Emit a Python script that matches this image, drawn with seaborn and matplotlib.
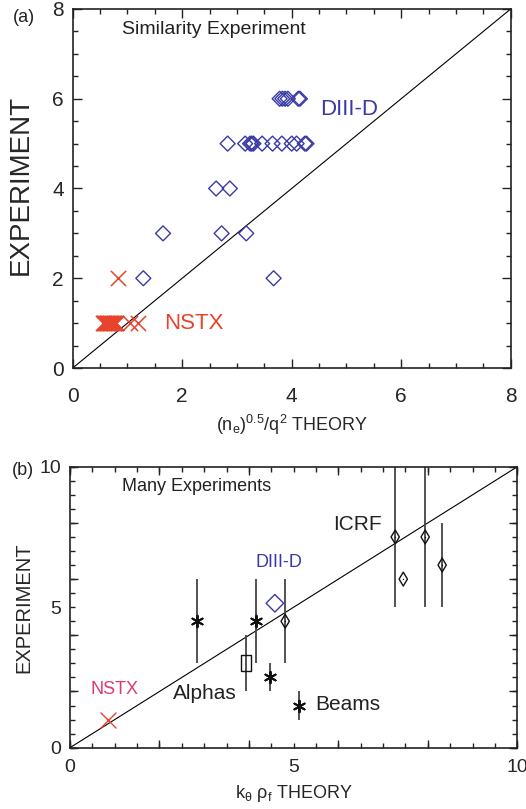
import numpy as np
import pandas as pd
import matplotlib
matplotlib.use("Agg")
import matplotlib.pyplot as plt
from matplotlib.ticker import FuncFormatter
import seaborn as sns

# ---------------- data: panel (a) ----------------
diiid_a_x = [3.78, 3.83, 3.88, 3.93, 4.12, 4.15,
             2.83, 3.15, 3.24, 3.27, 3.30, 3.46, 3.65, 3.82, 4.00, 4.09, 4.24, 4.27,
             2.62, 2.87,
             1.65, 2.72, 3.17,
             1.29, 3.67]
diiid_a_y = [6, 6, 6, 6, 6, 6,
             5, 5, 5, 5, 5, 5, 5, 5, 5, 5, 5, 5,
             4, 4,
             3, 3, 3,
             2, 2]
nstx_a_x = [0.83, 0.55, 0.565, 0.58, 0.595, 0.61, 0.62, 0.635, 0.65, 0.665, 0.68,
            0.69, 0.705, 0.72, 0.735, 0.75, 0.76, 0.775, 0.79, 0.80, 1.05, 1.19]
nstx_a_y = [2, 1, 1, 1, 1, 1, 1, 1, 1, 1, 1,
            1, 1, 1, 1, 1, 1, 1, 1, 1, 1, 1]

# ---------------- data: panel (b) ----------------
beams_x = [2.85, 4.16, 4.46, 5.11]
beams_y = [4.5, 4.5, 2.5, 1.5]
beams_lo = [1.5, 1.5, 0.5, 0.5]
beams_hi = [1.5, 1.5, 0.5, 0.5]

alphas_x = [3.93]
alphas_y = [3.0]
alphas_lo = [1.0]
alphas_hi = [1.0]

icrf_x = [4.81, 7.27, 7.94, 8.32, 7.45]
icrf_y = [4.5, 7.5, 7.5, 6.5, 6.0]
icrf_lo = [1.5, 2.5, 2.5, 1.5, 0.0]
icrf_hi = [1.5, 3.0, 3.0, 1.5, 0.0]

diiid_b_x = [4.58]
diiid_b_y = [5.14]
nstx_b_x = [0.84]
nstx_b_y = [1.0]

a_ticks = [0, 2, 4, 6, 8]
a_tick_labels = ['0', '2', '4', '6', '8']
b_major_ticks = [0, 2, 4, 6, 8, 10]
b_label_values = [0, 5, 10]
b_tick_labels = ['0', '5', '10']

# ---------------- style ----------------
sns.set_style("ticks")
plt.rcParams['font.family'] = ['Liberation Sans', 'DejaVu Sans']
plt.rcParams['mathtext.fontset'] = 'custom'
plt.rcParams['mathtext.rm'] = 'Liberation Sans'
plt.rcParams['mathtext.it'] = 'Liberation Sans:italic'
plt.rcParams['mathtext.bf'] = 'Liberation Sans:bold'

BLUE = '#3a3aa6'
RED = '#e8432c'
PINK = '#e0386c'
ERR = '#444444'

fig = plt.figure(figsize=(5.26, 8.09), dpi=100)
ax1 = fig.add_axes([0.1382, 0.5451, 0.8327, 0.4438])
ax2 = fig.add_axes([0.1331, 0.0758, 0.8504, 0.3473])

for ax in (ax1, ax2):
    for s in ax.spines.values():
        s.set_linewidth(1.2)
        s.set_color('#222222')
    ax.tick_params(which='both', direction='in', top=True, right=True,
                   color='#222222', width=1.0)
    ax.axline((0, 0), slope=1, color='black', lw=0.8, zorder=1)

# ---------------- panel (a) ----------------
df_ad = pd.DataFrame({'x': diiid_a_x, 'y': diiid_a_y})
df_an = pd.DataFrame({'x': nstx_a_x, 'y': nstx_a_y})
sns.scatterplot(data=df_ad, x='x', y='y', ax=ax1, marker='D', s=58,
                facecolor='none', edgecolor=BLUE, linewidth=1.0, zorder=3)
sns.scatterplot(data=df_an, x='x', y='y', ax=ax1, marker='x', s=120,
                color=RED, linewidth=1.1, zorder=3)

ax1.set_xlim(0, 8)
ax1.set_ylim(0, 8)
ax1.set_xticks(a_ticks)
ax1.set_xticklabels(a_tick_labels)
ax1.set_yticks(a_ticks)
ax1.set_yticklabels(a_tick_labels)
ax1.set_xticks(np.arange(0, 8.01, 0.5), minor=True)
ax1.set_yticks(np.arange(0, 8.01, 0.5), minor=True)
ax1.tick_params(which='major', length=6.5, labelsize=15)
ax1.tick_params(which='minor', length=3.6)
ax1.tick_params(axis='x', which='major', pad=14)
ax1.tick_params(axis='y', which='major', pad=6.5)

ax1.set_xlabel(r'(n$_\mathregular{e}$)$^\mathregular{0.5}$/q$^\mathregular{2}$ THEORY',
               fontsize=13, va='top')
ax1.xaxis.set_label_coords(0.5, -0.125)
ax1.set_ylabel('EXPERIMENT', fontsize=20)
ax1.yaxis.set_label_coords(-0.088, 0.51)

ax1.text(0.90, 7.55, 'Similarity Experiment', fontsize=14, va='center', ha='left', color='#222222')
ax1.text(4.52, 5.75, 'DIII-D', fontsize=16, va='center', ha='left', color=BLUE)
ax1.text(1.67, 1.0, 'NSTX', fontsize=16, va='center', ha='left', color=RED)

# ---------------- panel (b) ----------------
ax2.errorbar(beams_x, beams_y, yerr=[beams_lo, beams_hi], fmt='none',
             ecolor=ERR, elinewidth=1.3, capsize=0, zorder=2)
ax2.errorbar(alphas_x, alphas_y, yerr=[alphas_lo, alphas_hi], fmt='none',
             ecolor=ERR, elinewidth=1.3, capsize=0, zorder=2)
ax2.errorbar(icrf_x, icrf_y, yerr=[icrf_lo, icrf_hi], fmt='none',
             ecolor=ERR, elinewidth=1.3, capsize=0, zorder=2)

df_beams = pd.DataFrame({'x': beams_x, 'y': beams_y})
df_alphas = pd.DataFrame({'x': alphas_x, 'y': alphas_y})
df_icrf = pd.DataFrame({'x': icrf_x, 'y': icrf_y})
df_bd = pd.DataFrame({'x': diiid_b_x, 'y': diiid_b_y})
df_bn = pd.DataFrame({'x': nstx_b_x, 'y': nstx_b_y})

rect_marker = [(-0.6, -1.0), (0.6, -1.0), (0.6, 1.0), (-0.6, 1.0), (-0.6, -1.0)]

sns.scatterplot(data=df_beams, x='x', y='y', ax=ax2, marker=(6, 2, 0), s=70,
                color='#111111', linewidth=1.4, zorder=3)
sns.scatterplot(data=df_alphas, x='x', y='y', ax=ax2, marker=rect_marker, s=130,
                facecolor='none', edgecolor='#111111', linewidth=1.0, zorder=3)
sns.scatterplot(data=df_icrf, x='x', y='y', ax=ax2, marker='d', s=50,
                facecolor='none', edgecolor='#111111', linewidth=1.0, zorder=3)
sns.scatterplot(data=df_icrf, x='x', y='y', ax=ax2, marker='.', s=4,
                color='#111111', linewidth=0, zorder=3)
sns.scatterplot(data=df_bd, x='x', y='y', ax=ax2, marker='D', s=80,
                facecolor='none', edgecolor=BLUE, linewidth=1.0, zorder=3)
sns.scatterplot(data=df_bn, x='x', y='y', ax=ax2, marker='x', s=130,
                color=RED, linewidth=1.0, zorder=3)

ax2.set_xlim(0, 10)
ax2.set_ylim(0, 10)
for axis in (ax2.xaxis, ax2.yaxis):
    axis.set_ticks(b_major_ticks)
    axis.set_ticklabels([])
    axis.set_ticks(np.arange(0, 10.01, 0.5), minor=True)
    axis.remove_overlapping_locs = False
    axis.set_minor_formatter(FuncFormatter(
        lambda v, p: b_tick_labels[b_label_values.index(round(v, 3))]
        if round(v, 3) in b_label_values else ''))
ax2.tick_params(which='major', length=6.0)
ax2.tick_params(which='minor', length=3.4, labelsize=14)
ax2.tick_params(axis='x', which='minor', pad=8)
ax2.tick_params(axis='y', which='minor', pad=6.5)

ax2.set_xlabel(r'k$_\mathregular{θ}$ ρ$_\mathregular{f}$ THEORY', fontsize=13, va='top')
ax2.xaxis.set_label_coords(0.5, -0.126)
ax2.set_ylabel('EXPERIMENT', fontsize=14.5)
ax2.yaxis.set_label_coords(-0.082, 0.5)

ax2.text(1.16, 9.29, 'Many Experiments', fontsize=13, va='center', ha='left', color='#222222')
ax2.text(5.89, 7.96, 'ICRF', fontsize=15, va='center', ha='left', color='#222222')
ax2.text(4.14, 6.58, 'DIII-D', fontsize=13, va='center', ha='left', color=BLUE)
ax2.text(0.46, 2.08, 'NSTX', fontsize=13, va='center', ha='left', color=PINK)
ax2.text(2.31, 1.94, 'Alphas', fontsize=15, va='center', ha='left', color='#222222')
ax2.text(5.48, 1.52, 'Beams', fontsize=15, va='center', ha='left', color='#222222')

fig.text(0.024, 0.978, '(a)', fontsize=13, va='center', ha='left', color='#222222')
fig.text(0.022, 0.419, '(b)', fontsize=13, va='center', ha='left', color='#222222')

fig.savefig('out.png', dpi=100)
